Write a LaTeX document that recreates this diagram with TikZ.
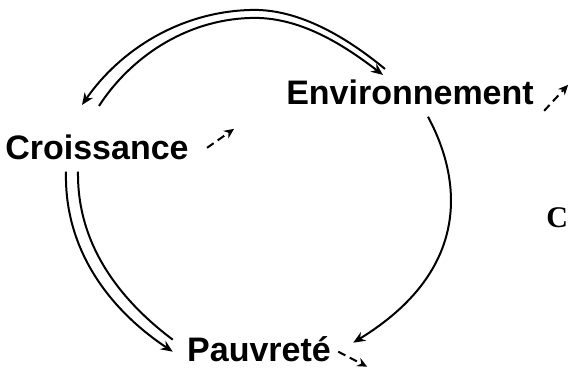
\documentclass[tikz,border=0pt]{standalone}
\usepackage{fontspec}
\setmainfont{Liberation Sans}
\newfontfamily\cutfont{Liberation Serif}
\usetikzlibrary{arrows.meta, calc}

\begin{document}
\begin{tikzpicture}[x=0.5pt, y=-0.5pt,
  every node/.style={font=\fontsize{17}{20}\selectfont\bfseries, inner sep=2pt},
  link/.style={line width=1pt, -{Stealth[length=6pt, width=5pt]}},
  hint/.style={line width=1pt, dash pattern=on 4pt off 2.5pt, -{Stealth[length=5pt, width=4.5pt]}}]
  \useasboundingbox (0,0) rectangle (570,369);
  \clip (0,0) rectangle (570,369);

  % Labels
  \node[anchor=base] (cro) at (97,160) {Croissance};
  \node[anchor=base] (env) at (410,105) {Environnement};
  \node[anchor=base] (pau) at (259,362) {Pauvreté};
  \node[anchor=base west, font=\fontsize{15}{16}\cutfont\bfseries] (cut) at (542,228) {C};

  % Croissance <-> Environnement (double arc)
  \draw[link] ($(env.north)+(-25,-7)$) .. controls (350,40) and (300,8) .. (250,10)
    .. controls (180,12) and (120,50) .. ($(cro.north)+(-15,-26)$);
  \draw[link] ($(cro.north)+(2,-25)$) .. controls (130,58) and (185,20) .. (250,18)
    .. controls (300,16) and (345,46) .. ($(env.north)+(-27,-1)$);

  % Croissance -> Pauvrete (double line)
  \draw[link] ($(cro.south)+(-31,7)$) .. controls (64,250) and (110,310) .. ($(pau.west)+(-10,2)$);
  \draw[line width=1pt] ($(cro.south)+(-19,7)$) .. controls (77,245) and (120,300) .. ($(pau.west)+(-10,-10)$);

  % Environnement -> Pauvrete
  \draw[link] ($(env.south)+(18,7)$) .. controls (462,180) and (472,270) .. ($(pau.east)+(18,-7)$);

  % Small arrows beside the labels
  \draw[hint] ($(cro.east)+(14,0)$) -- ($(cro.east)+(41,-19)$);
  \draw[hint] ($(env.east)+(6,18)$) -- ($(env.east)+(30,-8)$);
  \draw[hint] ($(pau.east)+(3,2)$) -- ($(pau.east)+(32,17)$);
\end{tikzpicture}
\end{document}
